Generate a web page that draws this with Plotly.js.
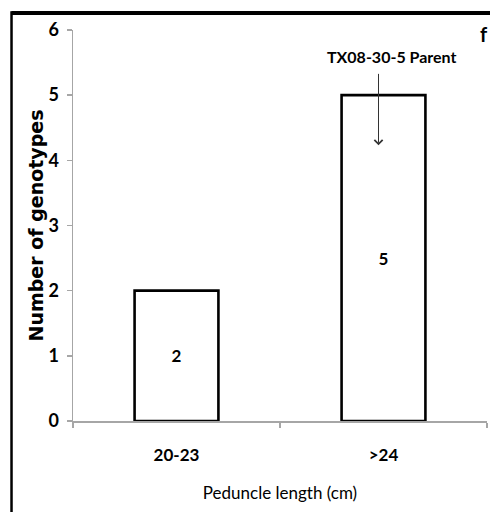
<!DOCTYPE html>
<html>
<head>
<meta charset="utf-8">
<script src="https://cdn.plot.ly/plotly-3.0.1.min.js"></script>
<style>
  html, body { margin: 0; padding: 0; background: #fff; }
  #chart { width: 490px; height: 512px; }
</style>
</head>
<body>
<div id="chart"></div>
<script>
// Peduncle length classes and number of genotypes in each
const lengthClasses = ['20-23', '>24'];
const genotypeCounts = [2, 5];
const yTicks = [0, 1, 2, 3, 4, 5, 6];

// Parent marker: category it points at and where the arrow ends
const parentLabel = 'TX08-30-5 Parent';
const parentClass = '>24';
const arrowTipValue = 4.23;
const arrowTailValue = 5.35;

const narrow = '"Liberation Sans Narrow", Lato, sans-serif';

const trace = {
  type: 'bar',
  x: lengthClasses,
  y: genotypeCounts,
  width: 0.405,
  marker: { color: '#ffffff', line: { color: '#000000', width: 2.6 } },
  text: genotypeCounts.map(String),
  textposition: 'inside',
  insidetextanchor: 'middle',
  textangle: 0,
  textfont: { family: narrow, size: 17, color: '#000000', weight: 'bold' },
  hoverinfo: 'x+y',
  cliponaxis: false
};

const layout = {
  width: 490,
  height: 512,
  margin: { l: 73, r: 3, t: 30, b: 91 },
  paper_bgcolor: '#ffffff',
  plot_bgcolor: '#ffffff',
  showlegend: false,
  font: { family: narrow, color: '#000000' },
  xaxis: {
    type: 'category',
    range: [-0.5, 1.5],
    showline: true,
    linecolor: '#a6a6a6',
    linewidth: 1.5,
    ticks: 'outside',
    tickson: 'boundaries',
    ticklen: 5,
    tickcolor: '#a6a6a6',
    tickwidth: 1.5,
    ticklabelstandoff: 18,
    showgrid: false,
    zeroline: false,
    tickfont: { family: narrow, size: 17, color: '#000000', weight: 'bold' },
    title: { text: 'Peduncle length (cm)', font: { family: narrow, size: 17, color: '#000000' }, standoff: 23 },
    fixedrange: true
  },
  yaxis: {
    range: [0, 6],
    tickvals: yTicks,
    showline: true,
    linecolor: '#a6a6a6',
    linewidth: 1.5,
    ticks: 'outside',
    ticklen: 5,
    tickcolor: '#a6a6a6',
    tickwidth: 1.5,
    ticklabelstandoff: 4,
    showgrid: false,
    zeroline: false,
    tickfont: { family: narrow, size: 18, color: '#000000', weight: 'bold' },
    title: { text: 'Number of genotypes', font: { family: '"DejaVu Sans", Verdana, sans-serif', size: 19, color: '#000000', weight: 'bold' }, standoff: 0 },
    fixedrange: true
  },
  annotations: [
    {
      x: parentClass, y: arrowTailValue, xref: 'x', yref: 'y',
      xshift: 8, yshift: 4,
      text: parentLabel, showarrow: false,
      yanchor: 'bottom',
      font: { family: narrow, size: 16, color: '#000000', weight: 'bold' }
    },
    {
      x: parentClass, y: arrowTipValue, xref: 'x', yref: 'y',
      ax: parentClass, ay: arrowTailValue, axref: 'x', ayref: 'y',
      xshift: -5,
      text: '', showarrow: true,
      arrowhead: 4, arrowsize: 1.6, arrowwidth: 1, arrowcolor: '#333333'
    },
    {
      x: 1.0, y: 1.0, xref: 'paper', yref: 'paper',
      xanchor: 'right', yanchor: 'middle', xshift: 3, yshift: -4,
      text: 'f', showarrow: false,
      font: { family: narrow, size: 20, color: '#000000', weight: 'bold' }
    }
  ],
  shapes: [
    // frame around the panel (top and left edges)
    { type: 'line', xref: 'paper', yref: 'paper', x0: -0.1485, x1: 1.2, y0: 1.0435, y1: 1.0435,
      line: { color: '#000000', width: 4 } },
    { type: 'line', xref: 'paper', yref: 'paper', x0: -0.1485, x1: -0.1485, y0: 1.048, y1: -0.3,
      line: { color: '#000000', width: 2.5 } }
  ]
};

Plotly.newPlot('chart', [trace], layout, { displayModeBar: false, staticPlot: true });
</script>
</body>
</html>
